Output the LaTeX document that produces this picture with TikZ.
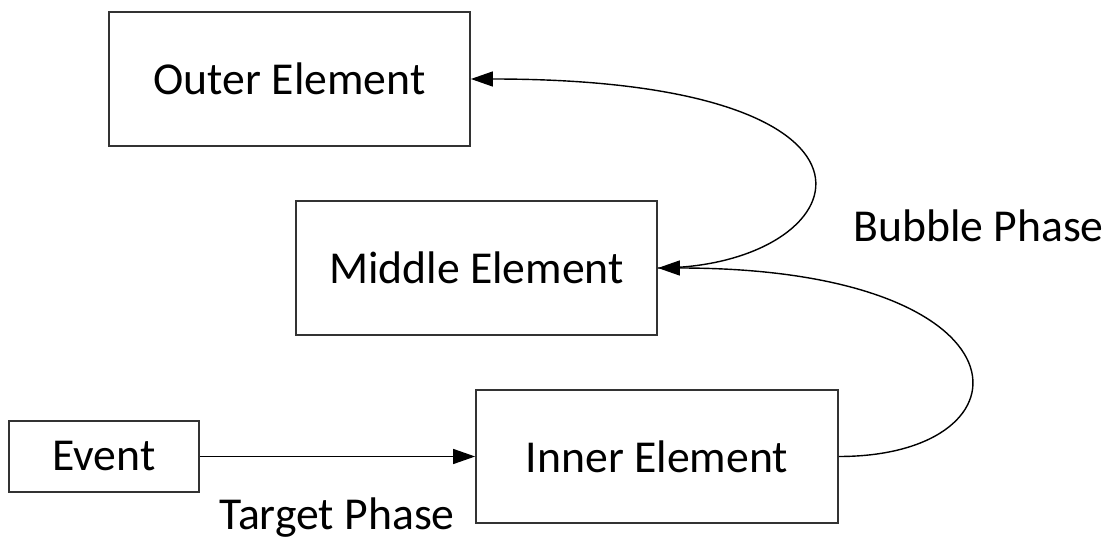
\documentclass[tikz,border=0pt]{standalone}
\usepackage{fontspec}
\setmainfont{Carlito}
\usetikzlibrary{arrows.meta}

\begin{document}
\begin{tikzpicture}[font=\fontsize{26}{30}\selectfont, >={Triangle[length=4.4mm,width=3mm]},
  box/.style={draw=black!80, line width=1pt, inner sep=0pt},
  link/.style={->, line width=0.8pt}]
  \useasboundingbox (0,0) rectangle (22.28,10.76);
  %% ── Element boxes ─────────────────────────────────────────
  \node[box, minimum width=7.22cm, minimum height=2.68cm] (outer) at (5.79,9.18) {Outer Element};
  \node[box, minimum width=7.22cm, minimum height=2.68cm] (middle) at (9.53,5.40) {Middle Element};
  \node[box, minimum width=7.24cm, minimum height=2.66cm] (inner) at (13.14,1.63) {Inner Element};
  \node[box, minimum width=3.81cm, minimum height=1.42cm] (event) at (2.08,1.63) {Event};
  %% ── Target phase ──────────────────────────────────────────
  \draw[link] (event) -- (inner);
  \node[anchor=base] (target) at (6.74,0.18) {Target Phase};
  %% ── Bubble phase ──────────────────────────────────────────
  \draw[link] (inner.east) .. controls +(4.0,0) and +(7.6,0) .. (middle.east);
  \draw[link] (middle.east) .. controls +(4.0,0) and +(9.2,0) .. (outer.east);
  \node[anchor=base] (bubble) at (19.57,5.92) {Bubble Phase};
\end{tikzpicture}
\end{document}
